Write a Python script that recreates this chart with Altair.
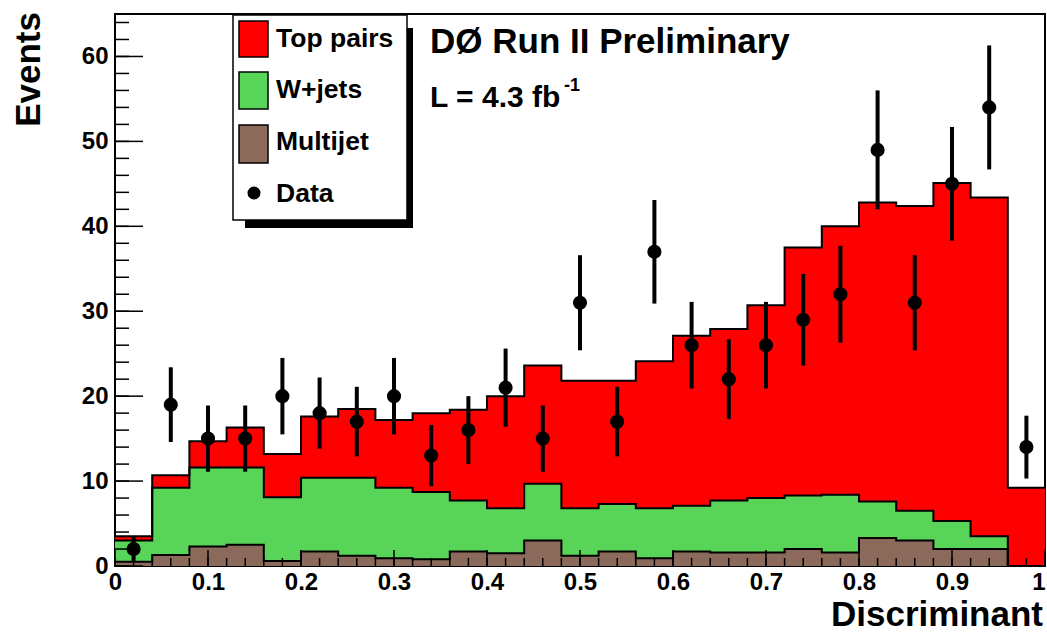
import altair as alt
import pandas as pd

# ---------------- data ----------------
bin_edges = [round(0.04 * i, 2) for i in range(26)]          # 25 bins, 0..1
bin_centers = [round(0.04 * i + 0.02, 2) for i in range(25)]

top_pairs = [0.5, 1.5, 3.1, 4.7, 5.1, 7.2, 8.1, 8.0, 9.3, 10.7, 13.2, 13.9, 15.0,
             14.5, 17.3, 20.0, 20.2, 22.7, 29.2, 31.6, 35.2, 35.9, 39.8, 39.9, 9.2]
wjets = [2.5, 7.9, 9.3, 9.1, 7.5, 8.7, 9.2, 8.3, 7.9, 6.0, 5.3, 6.7, 5.6,
         5.6, 5.9, 5.4, 6.1, 6.4, 6.3, 6.8, 4.3, 3.5, 3.3, 1.5, 0.0]
multijet = [0.5, 1.3, 2.3, 2.5, 0.6, 1.7, 1.2, 0.9, 0.8, 1.7, 1.5, 3.0, 1.2,
            1.7, 0.9, 1.7, 1.6, 1.6, 2.0, 1.6, 3.3, 3.0, 2.0, 2.0, 0.0]
data_counts = [2, 19, 15, 15, 20, 18, 17, 20, 13, 16, 21, 15, 31,
               17, 37, 26, 22, 26, 29, 32, 49, 31, 45, 54, 14]
data_err = [1.4, 4.4, 3.9, 3.9, 4.5, 4.2, 4.1, 4.5, 3.6, 4.0, 4.6, 3.9, 5.6,
            4.1, 6.1, 5.1, 4.7, 5.1, 5.4, 5.7, 7.0, 5.6, 6.7, 7.3, 3.7]

x_major = [0, 0.1, 0.2, 0.3, 0.4, 0.5, 0.6, 0.7, 0.8, 0.9, 1.0]
x_minor = [round(0.02 * i, 2) for i in range(51)]
y_major = [0, 10, 20, 30, 40, 50, 60]
y_minor = [2 * i for i in range(33)]

legend_labels = ["Top pairs", "W+jets", "Multijet", "Data"]
title_text = "DØ Run II Preliminary"
lumi_text = "L = 4.3 fb"
lumi_sup = "-1"

RED = "#ff0000"
GREEN = "#58d458"
BROWN = "#8b6a5b"
FONT = "Liberation Sans"

W, H = 930, 552
Y_MAX = 65
X_TICK_MAJ = 16 / H * Y_MAX   # inward tick lengths in data units
X_TICK_MIN = 8 / H * Y_MAX

# ---------------- tables ----------------
mj_top = list(multijet)
w_top = [m + w for m, w in zip(multijet, wjets)]
tot_top = [w + t for w, t in zip(w_top, top_pairs)]


def step_df(vals):
    return pd.DataFrame({"x": bin_edges, "y": vals + [vals[-1]]})


pts = pd.DataFrame({
    "x": bin_centers,
    "n": data_counts,
    "lo": [n - e for n, e in zip(data_counts, data_err)],
    "hi": [n + e for n, e in zip(data_counts, data_err)],
})

xs = alt.Scale(domain=[0, 1], nice=False, zero=False)
ys = alt.Scale(domain=[0, Y_MAX], nice=False, zero=True)

xaxis = alt.Axis(values=x_major, ticks=False, domain=False, grid=False, title=None,
                 labelFont=FONT, labelFontWeight="bold", labelFontSize=24,
                 labelColor="black", labelPadding=4, labelFlush=False,
                 labelAlign=alt.condition("datum.value == 1", alt.value("right"), alt.value("center")),
                 labelExpr="datum.value == 0 || datum.value == 1 ? format(datum.value, 'd') : format(datum.value, '.1f')")
yaxis = alt.Axis(values=y_major, ticks=False, domain=False, grid=False, title=None,
                 labelFont=FONT, labelFontWeight="bold", labelFontSize=24,
                 labelColor="black", labelPadding=7, labelFlush=False)


def X(field):
    return alt.X(field, scale=xs, axis=xaxis)


def Y(field):
    return alt.Y(field, scale=ys, axis=yaxis)


def area(vals, color):
    return alt.Chart(step_df(vals)).mark_area(interpolate="step-after", color=color, opacity=1).encode(
        x=X("x:Q"), y=Y("y:Q"))


def outline(vals):
    return alt.Chart(step_df(vals)).mark_line(interpolate="step-after", color="black", strokeWidth=2).encode(
        x=X("x:Q"), y=Y("y:Q"))


red_area = area(tot_top, RED)
green_area = area(w_top, GREEN)
brown_area = area(mj_top, BROWN)
lines = [outline(tot_top), outline(w_top), outline(mj_top)]

# axis ticks drawn inward (ROOT style)
xt_major = alt.Chart(pd.DataFrame({"v": x_major})).mark_rule(color="black", strokeWidth=1.5).encode(
    x=X("v:Q"), y=alt.datum(0), y2=alt.datum(X_TICK_MAJ))
xt_minor = alt.Chart(pd.DataFrame({"v": x_minor})).mark_rule(color="black", strokeWidth=1.5).encode(
    x=X("v:Q"), y=alt.datum(0), y2=alt.datum(X_TICK_MIN))
yt_major = alt.Chart(pd.DataFrame({"v": y_major})).mark_rule(color="black", strokeWidth=1.5).encode(
    y=Y("v:Q"), x=alt.datum(0), x2=alt.datum(28 / W))
yt_minor = alt.Chart(pd.DataFrame({"v": y_minor})).mark_rule(color="black", strokeWidth=1.5).encode(
    y=Y("v:Q"), x=alt.datum(0), x2=alt.datum(14 / W))

err = alt.Chart(pts).mark_rule(color="black", strokeWidth=4).encode(
    x=X("x:Q"), y=Y("lo:Q"), y2="hi:Q")
dots = alt.Chart(pts).mark_circle(color="black", opacity=1, size=200).encode(
    x=X("x:Q"), y=Y("n:Q"))

one = pd.DataFrame({"a": [0]})


def box(x1, x2, y1, y2, fill, stroke=None, sw=0):
    kw = dict(color=fill, opacity=1)
    if stroke:
        kw.update(stroke=stroke, strokeWidth=sw)
    return alt.Chart(one).mark_rect(**kw).encode(
        x=alt.value(x1), x2=alt.value(x2), y=alt.value(y1), y2=alt.value(y2))


def text(s, x, y, size, align="left", baseline="middle", angle=0, font=FONT):
    kw = dict(text=s, font=font, fontSize=size, fontWeight="bold", color="black",
              align=align, baseline=baseline)
    if angle:
        kw["angle"] = angle
    return alt.Chart(one).mark_text(**kw).encode(x=alt.value(x), y=alt.value(y))


legend_layers = [
    box(130, 298, 14, 214, "black"),
    box(118, 292, 1, 206, "white", "black", 1.5),
    box(124, 153, 7, 43, RED, "black", 1.5),
    box(124, 153, 58, 95, GREEN, "black", 1.5),
    box(124, 153, 111, 149, BROWN, "black", 1.5),
    alt.Chart(one).mark_circle(color="black", opacity=1, size=170).encode(
        x=alt.value(139), y=alt.value(179)),
    text(legend_labels[0], 161, 25, 26.5),
    text(legend_labels[1], 161, 76, 26.5),
    text(legend_labels[2], 161, 128, 26.5),
    text(legend_labels[3], 161, 180, 26.5),
]

annot = [
    text(title_text, 315, 28, 35),
    text(lumi_text, 315, 84, 30),
    text(lumi_sup, 449, 72, 18),
    text("Events", -86, -2, 35, align="right", angle=270),
    text("Discriminant", 928, 612, 35, align="right", baseline="alphabetic"),
]

chart = alt.layer(
    red_area, green_area, brown_area, *lines,
    xt_minor, xt_major, yt_minor, yt_major,
    err, dots,
    *legend_layers, *annot,
).properties(
    width=W, height=H,
    autosize=alt.AutoSizeParams(type="none"),
    padding={"left": 115, "top": 14, "right": 2, "bottom": 66},
    background="white",
).configure_view(stroke="black", strokeWidth=2)

chart.save("out.html", embed_options={"renderer": "svg", "actions": False})
